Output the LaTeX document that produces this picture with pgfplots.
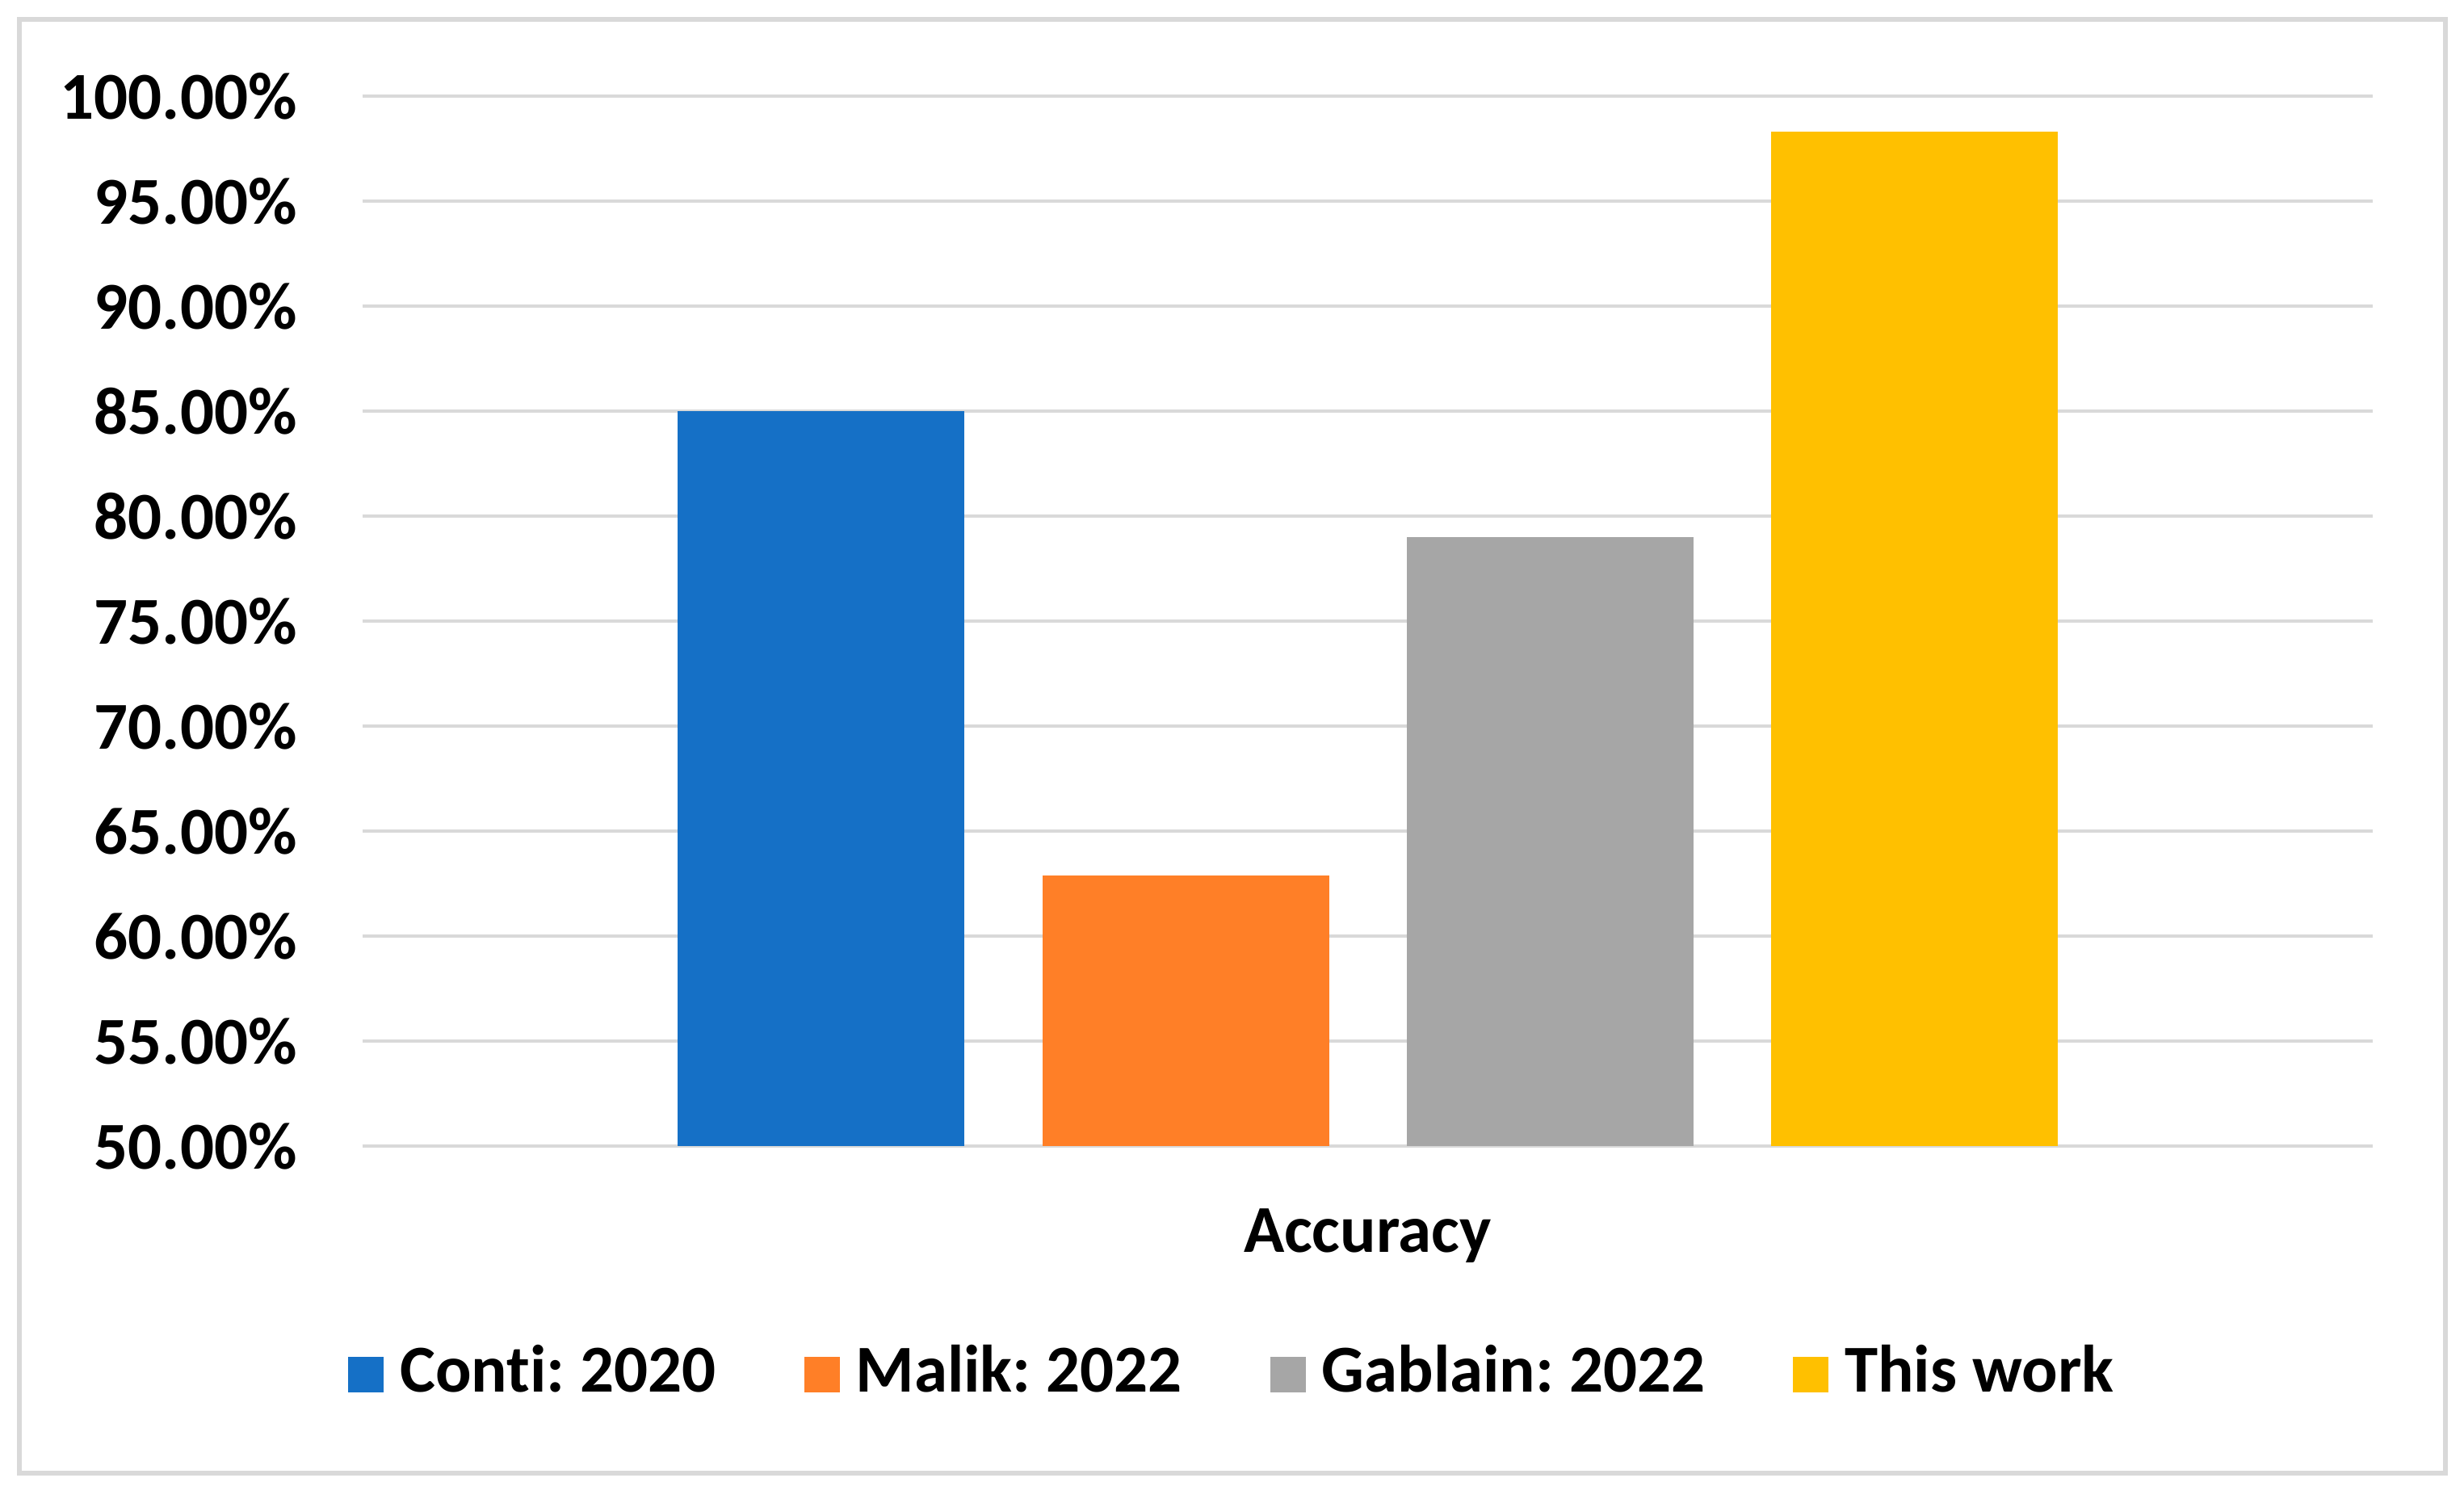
\documentclass[border=0pt]{standalone}
\usepackage{fontspec}
\setmainfont{Carlito}[Ligatures=NoCommon]
\usepackage{pgfplots}
\pgfplotsset{compat=1.18}
\frenchspacing

\definecolor{cblue}{HTML}{1570C6}
\definecolor{corange}{HTML}{FF7F27}
\definecolor{cgray}{HTML}{A6A6A6}
\definecolor{cyellow}{HTML}{FFC000}
\definecolor{gridgray}{HTML}{D9D9D9}

\begin{document}
\begin{tikzpicture}
% page box and chart frame
\path (0,0) rectangle (305.1pt,185.5pt);
\draw[gridgray, line width=0.6pt] (2.4pt,3.1pt) rectangle (302.8pt,183.1pt);

\begin{axis}[
    at={(44.9pt,43.6pt)}, anchor=south west,
    scale only axis,
    width=248.9pt, height=130pt,
    xmin=-1, xmax=1,
    ymin=50, ymax=100,
    ytick={50,55,...,100},
    xtick={0}, xticklabels={Accuracy},
    ybar=9.6pt, bar width=35.5pt,
    ymajorgrids,
    grid style={gridgray, line width=0.45pt},
    axis line style={draw=none},
    tick style={draw=none},
    /pgf/number format/assume math mode=true,
    yticklabel={\pgfmathprintnumber[fixed,fixed zerofill,precision=2]{\tick}\%},
    ticklabel style={font=\fontsize{8.3}{10}\selectfont\bfseries},
    yticklabel style={xshift=-4.6pt},
    xticklabel style={yshift=0pt},
    legend columns=4,
    legend style={draw=none, at={(0.436,-0.2177)}, anchor=center,
        font=\fontsize{8.3}{10}\selectfont\bfseries,
        /tikz/every even column/.append style={column sep=8.9pt}},
    legend image code/.code={\fill[#1] (0pt,-2.2pt) rectangle (4.4pt,2.2pt);},
    ]
\addplot[draw=none, fill=cblue] coordinates {(0,85.0)};
\addplot[draw=none, fill=corange] coordinates {(0,62.9)};
\addplot[draw=none, fill=cgray] coordinates {(0,79.0)};
\addplot[draw=none, fill=cyellow] coordinates {(0,98.3)};
\legend{Conti: 2020, Malik: 2022, Gablain: 2022, This work}
\end{axis}
\end{tikzpicture}
\end{document}
